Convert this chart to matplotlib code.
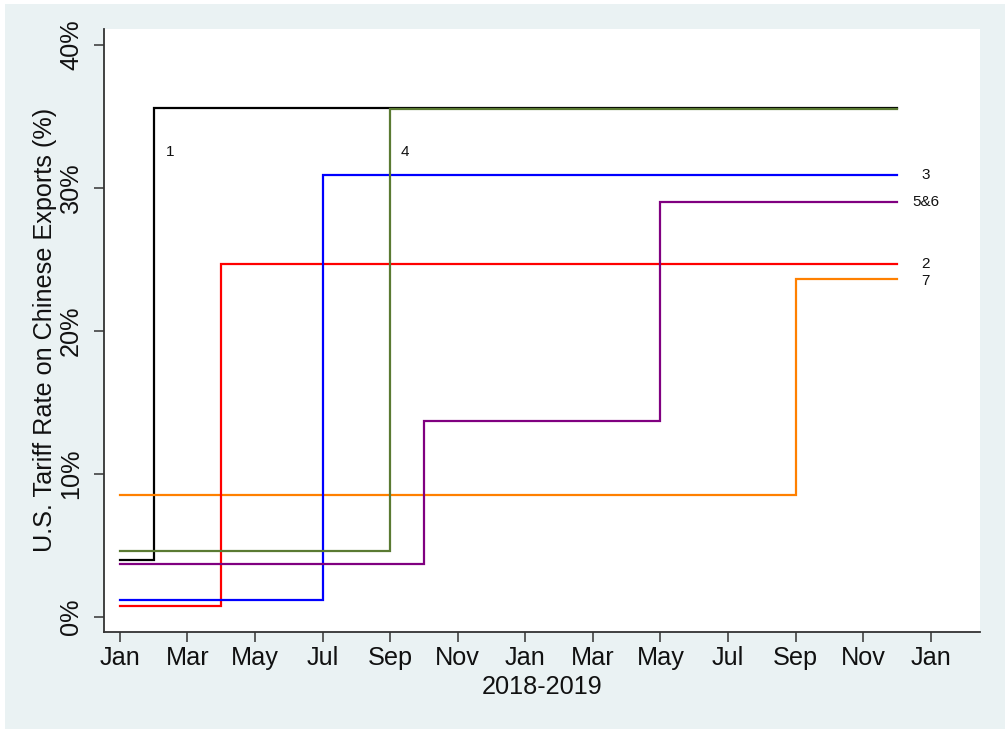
import matplotlib
matplotlib.use("Agg")
import matplotlib.pyplot as plt
from matplotlib.patches import Rectangle

plt.rcParams['font.family'] = ['Liberation Sans', 'DejaVu Sans']

# Month index: 0 = Jan 2018 ... 24 = Jan 2020
tick_months = [0, 2, 4, 6, 8, 10, 12, 14, 16, 18, 20, 22, 24]
tick_labels = ['Jan', 'Mar', 'May', 'Jul', 'Sep', 'Nov',
               'Jan', 'Mar', 'May', 'Jul', 'Sep', 'Nov', 'Jan']
end_month = 23

# Each tariff series: months where the rate changes, and the rate from then on (%)
s1_months, s1_rates = [0, 1], [4.0, 35.6]
s2_months, s2_rates = [0, 3], [0.8, 24.7]
s3_months, s3_rates = [0, 6], [1.2, 30.9]
s4_months, s4_rates = [0, 8], [4.6, 35.5]
s56_months, s56_rates = [0, 9, 16], [3.7, 13.7, 29.0]
s7_months, s7_rates = [0, 20], [8.5, 23.6]

series = [
    (s1_months, s1_rates, '#000000'),
    (s7_months, s7_rates, '#FF8000'),
    (s2_months, s2_rates, '#FF0000'),
    (s3_months, s3_rates, '#0000FF'),
    (s56_months, s56_rates, '#800080'),
    (s4_months, s4_rates, '#5A7A32'),
]

# Series labels: (text, month, rate)
labels = [
    ('1', 1.5, 32.5),
    ('4', 8.45, 32.5),
    ('3', 23.85, s3_rates[-1]),
    ('5&6', 23.85, s56_rates[-1]),
    ('2', 23.85, s2_rates[-1]),
    ('7', 23.85, s7_rates[-1] - 0.1),
]

FS = 18.2
W, H = 1008, 730
fig = plt.figure(figsize=(W / 100, H / 100), dpi=100)
fig.patch.set_facecolor('white')
fig.patches.append(Rectangle((5 / W, 1 - 729 / H), 1000 / W, 725 / H,
                             transform=fig.transFigure, facecolor='#EAF2F3',
                             edgecolor='none', zorder=-10))

ax = fig.add_axes([104 / W, 1 - 632 / H, 876 / W, 603 / H])
ax.set_facecolor('white')

for months, rates, color in series:
    xs = list(months) + [end_month]
    ys = list(rates) + [rates[-1]]
    ax.plot(xs, ys, drawstyle='steps-post', color=color, lw=1.6,
            solid_joinstyle='miter')

for text, m, r in labels:
    ax.text(m, r, text, fontsize=11, ha='center', va='center', color='#111111')

ax.set_xlim(-0.47, 25.46)
ax.set_ylim(-1.05, 41.1)

ax.set_xticks(tick_months)
ax.set_xticklabels(tick_labels, fontsize=FS)
ax.set_yticks([0, 10, 20, 30, 40])
ax.set_yticklabels(['0%', '10%', '20%', '30%', '40%'], fontsize=FS,
                   rotation=90, va='center')

for side in ['top', 'right']:
    ax.spines[side].set_visible(False)
for side in ['left', 'bottom']:
    ax.spines[side].set_color('#333333')
    ax.spines[side].set_linewidth(1.3)
ax.tick_params(axis='both', length=7, width=1.1, color='#333333', labelcolor='#111111')
ax.tick_params(axis='x', pad=3)
ax.tick_params(axis='y', pad=8)

fig.text(542 / W, 1 - 687 / H, '2018-2019', fontsize=FS, ha='center', va='center',
         color='#111111')
fig.text(45 / W, 1 - 330 / H, 'U.S. Tariff Rate on Chinese Exports (%)', fontsize=FS,
         rotation=90, ha='center', va='center', color='#111111')

fig.savefig('out.png', dpi=100, facecolor=fig.get_facecolor())
